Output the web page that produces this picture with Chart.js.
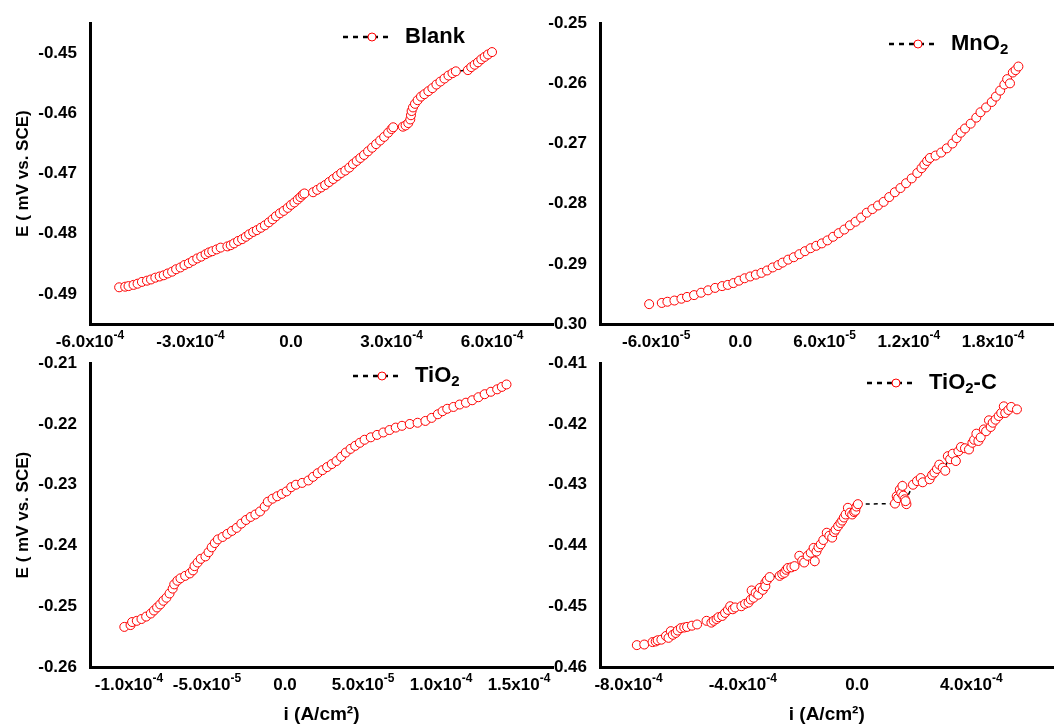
<!DOCTYPE html>
<html>
<head>
<meta charset="utf-8">
<script src="https://cdn.jsdelivr.net/npm/chart.js@4.4.0/dist/chart.umd.min.js"></script>
<style>
  html, body { margin: 0; padding: 0; background: #fff; overflow: hidden; }
  #wrap { position: relative; width: 1059px; height: 725px; }
  canvas { position: absolute; }
</style>
</head>
<body>
<div id="wrap">
  <canvas id="blank" width="560" height="355" style="left:0px;top:0px"></canvas>
  <canvas id="mno2" width="529" height="355" style="left:530px;top:0px"></canvas>
  <canvas id="tio2" width="560" height="385" style="left:0px;top:340px"></canvas>
  <canvas id="tio2c" width="529" height="385" style="left:530px;top:340px"></canvas>
</div>
<script>
// current density i (A/cm2) and potential E for each coating
const blankCurrent = [
  -5.13e-4, -4.95e-4, -4.85e-4, -4.70e-4, -4.58e-4, -4.45e-4, -4.30e-4, -4.18e-4, -4.05e-4, -3.92e-4,
  -3.80e-4, -3.68e-4, -3.55e-4, -3.43e-4, -3.30e-4, -3.18e-4, -3.05e-4, -2.93e-4, -2.80e-4, -2.68e-4,
  -2.55e-4, -2.45e-4, -2.35e-4, -2.22e-4, -2.10e-4, -1.90e-4, -1.80e-4, -1.70e-4, -1.58e-4, -1.46e-4,
  -1.35e-4, -1.25e-4, -1.13e-4, -1.02e-4, -0.90e-4, -0.78e-4, -0.66e-4, -0.55e-4, -0.45e-4, -0.33e-4,
  -0.22e-4, -0.10e-4, 0.00e-4, 0.10e-4, 0.20e-4, 0.28e-4, 0.35e-4, 0.40e-4, 0.66e-4, 0.78e-4,
  0.90e-4, 1.02e-4, 1.14e-4, 1.26e-4, 1.38e-4, 1.50e-4, 1.62e-4, 1.74e-4, 1.85e-4, 1.96e-4,
  2.07e-4, 2.18e-4, 2.30e-4, 2.42e-4, 2.54e-4, 2.66e-4, 2.78e-4, 2.90e-4, 3.00e-4, 3.05e-4,
  3.34e-4, 3.42e-4, 3.50e-4, 3.56e-4, 3.58e-4, 3.60e-4, 3.64e-4, 3.70e-4, 3.78e-4, 3.88e-4,
  3.98e-4, 4.10e-4, 4.22e-4, 4.34e-4, 4.46e-4, 4.58e-4, 4.70e-4, 4.82e-4, 4.92e-4, 5.28e-4,
  5.38e-4, 5.48e-4, 5.58e-4, 5.68e-4, 5.78e-4, 5.88e-4, 6.00e-4
];
const blankPotential = [
  -0.4889, -0.4888, -0.4887, -0.4885, -0.4883, -0.4880, -0.4878, -0.4876, -0.4873, -0.4871,
  -0.4869, -0.4866, -0.4863, -0.4859, -0.4856, -0.4852, -0.4849, -0.4845, -0.4841, -0.4838,
  -0.4834, -0.4831, -0.4829, -0.4826, -0.4823, -0.4821, -0.4819, -0.4816, -0.4812, -0.4809,
  -0.4805, -0.4801, -0.4797, -0.4794, -0.4790, -0.4786, -0.4781, -0.4776, -0.4771, -0.4766,
  -0.4762, -0.4757, -0.4752, -0.4748, -0.4743, -0.4739, -0.4735, -0.4733, -0.4731, -0.4727,
  -0.4723, -0.4719, -0.4714, -0.4709, -0.4704, -0.4699, -0.4695, -0.4690, -0.4684, -0.4679,
  -0.4674, -0.4669, -0.4663, -0.4657, -0.4651, -0.4645, -0.4639, -0.4632, -0.4626, -0.4623,
  -0.4622, -0.4620, -0.4616, -0.4610, -0.4603, -0.4596, -0.4590, -0.4584, -0.4578, -0.4572,
  -0.4568, -0.4563, -0.4558, -0.4552, -0.4547, -0.4542, -0.4537, -0.4533, -0.4530, -0.4528,
  -0.4523, -0.4519, -0.4515, -0.4510, -0.4506, -0.4502, -0.4498
];

const mno2Current = [
  -0.65e-4, -0.56e-4, -0.52e-4, -0.47e-4, -0.42e-4, -0.38e-4, -0.33e-4, -0.28e-4, -0.23e-4, -0.18e-4,
  -0.13e-4, -0.09e-4, -0.05e-4, -0.01e-4, 0.03e-4, 0.07e-4, 0.11e-4, 0.15e-4, 0.19e-4, 0.23e-4,
  0.27e-4, 0.30e-4, 0.34e-4, 0.38e-4, 0.42e-4, 0.46e-4, 0.50e-4, 0.54e-4, 0.58e-4, 0.62e-4,
  0.66e-4, 0.70e-4, 0.74e-4, 0.78e-4, 0.82e-4, 0.86e-4, 0.90e-4, 0.94e-4, 0.98e-4, 1.02e-4,
  1.06e-4, 1.10e-4, 1.14e-4, 1.18e-4, 1.22e-4, 1.26e-4, 1.29e-4, 1.31e-4, 1.33e-4, 1.35e-4,
  1.39e-4, 1.43e-4, 1.47e-4, 1.51e-4, 1.54e-4, 1.57e-4, 1.60e-4, 1.64e-4, 1.68e-4, 1.71e-4,
  1.75e-4, 1.79e-4, 1.82e-4, 1.85e-4, 1.88e-4, 1.90e-4, 1.92e-4, 1.94e-4, 1.96e-4, 1.98e-4
];
const mno2Potential = [
  -0.2967, -0.2965, -0.2963, -0.2961, -0.2958, -0.2955, -0.2952, -0.2948, -0.2944, -0.2940,
  -0.2937, -0.2935, -0.2932, -0.2928, -0.2924, -0.2921, -0.2918, -0.2915, -0.2911, -0.2906,
  -0.2902, -0.2898, -0.2893, -0.2889, -0.2884, -0.2879, -0.2874, -0.2870, -0.2866, -0.2861,
  -0.2855, -0.2849, -0.2843, -0.2836, -0.2830, -0.2823, -0.2815, -0.2809, -0.2803, -0.2797,
  -0.2789, -0.2781, -0.2774, -0.2766, -0.2758, -0.2749, -0.2741, -0.2735, -0.2729, -0.2724,
  -0.2720, -0.2715, -0.2708, -0.2700, -0.2691, -0.2682, -0.2675, -0.2667, -0.2657, -0.2648,
  -0.2640, -0.2631, -0.2622, -0.2612, -0.2602, -0.2593, -0.2600, -0.2582, -0.2578, -0.2572
];

const tio2Current = [
  -1.03e-4, -0.99e-4, -0.98e-4, -0.95e-4, -0.92e-4, -0.89e-4, -0.86e-4, -0.84e-4, -0.82e-4, -0.80e-4,
  -0.78e-4, -0.76e-4, -0.74e-4, -0.72e-4, -0.71e-4, -0.69e-4, -0.67e-4, -0.64e-4, -0.61e-4, -0.59e-4,
  -0.58e-4, -0.56e-4, -0.54e-4, -0.51e-4, -0.49e-4, -0.47e-4, -0.45e-4, -0.43e-4, -0.40e-4, -0.37e-4,
  -0.34e-4, -0.31e-4, -0.28e-4, -0.25e-4, -0.22e-4, -0.19e-4, -0.16e-4, -0.13e-4, -0.11e-4, -0.08e-4,
  -0.05e-4, -0.02e-4, 0.01e-4, 0.04e-4, 0.07e-4, 0.11e-4, 0.15e-4, 0.18e-4, 0.21e-4, 0.24e-4,
  0.27e-4, 0.30e-4, 0.33e-4, 0.36e-4, 0.39e-4, 0.42e-4, 0.45e-4, 0.48e-4, 0.51e-4, 0.55e-4,
  0.59e-4, 0.63e-4, 0.67e-4, 0.71e-4, 0.75e-4, 0.80e-4, 0.85e-4, 0.90e-4, 0.94e-4, 0.98e-4,
  1.01e-4, 1.04e-4, 1.08e-4, 1.12e-4, 1.16e-4, 1.20e-4, 1.24e-4, 1.28e-4, 1.32e-4, 1.36e-4,
  1.39e-4, 1.42e-4
];
const tio2Potential = [
  -0.2534, -0.2531, -0.2526, -0.2524, -0.2521, -0.2517, -0.2512, -0.2507, -0.2502, -0.2497,
  -0.2491, -0.2486, -0.2479, -0.2471, -0.2464, -0.2458, -0.2454, -0.2450, -0.2446, -0.2441,
  -0.2434, -0.2428, -0.2422, -0.2418, -0.2411, -0.2403, -0.2396, -0.2390, -0.2386, -0.2381,
  -0.2376, -0.2371, -0.2364, -0.2358, -0.2353, -0.2349, -0.2344, -0.2336, -0.2328, -0.2323,
  -0.2319, -0.2315, -0.2311, -0.2304, -0.2300, -0.2297, -0.2293, -0.2287, -0.2281, -0.2276,
  -0.2271, -0.2266, -0.2261, -0.2254, -0.2247, -0.2241, -0.2236, -0.2231, -0.2226, -0.2222,
  -0.2218, -0.2214, -0.2210, -0.2206, -0.2203, -0.2200, -0.2198, -0.2195, -0.2190, -0.2184,
  -0.2179, -0.2175, -0.2172, -0.2168, -0.2165, -0.2161, -0.2156, -0.2151, -0.2147, -0.2143,
  -0.2139, -0.2135
];

const tio2cCurrent = [
  -7.71e-4, -7.45e-4, -7.16e-4, -7.05e-4, -6.98e-4, -6.85e-4, -6.69e-4, -6.60e-4, -6.52e-4, -6.45e-4,
  -6.35e-4, -6.28e-4, -6.17e-4, -6.05e-4, -5.95e-4, -5.78e-4, -5.60e-4, -5.27e-4, -5.10e-4, -5.02e-4,
  -4.92e-4, -4.85e-4, -4.72e-4, -4.62e-4, -4.52e-4, -4.44e-4, -4.35e-4, -4.27e-4, -4.05e-4, -3.92e-4,
  -3.80e-4, -3.72e-4, -3.69e-4, -3.62e-4, -3.55e-4, -3.46e-4, -3.40e-4, -3.30e-4, -3.21e-4, -3.21e-4,
  -3.15e-4, -3.06e-4, -2.71e-4, -2.62e-4, -2.54e-4, -2.48e-4, -2.42e-4, -2.30e-4, -2.19e-4, -2.02e-4,
  -1.92e-4, -1.85e-4, -1.73e-4, -1.62e-4, -1.52e-4, -1.48e-4, -1.42e-4, -1.35e-4, -1.27e-4, -1.18e-4,
  -1.06e-4, -0.97e-4, -0.87e-4, -0.80e-4, -0.75e-4, -0.66e-4, -0.58e-4, -0.52e-4, -0.46e-4, -0.40e-4,
  -0.32e-4, -0.25e-4, -0.17e-4, -0.10e-4, -0.06e-4, -0.02e-4, 0.03e-4, 1.33e-4, 1.39e-4, 1.44e-4,
  1.50e-4, 1.55e-4, 1.59e-4, 1.62e-4, 1.67e-4, 1.73e-4, 1.70e-4, 1.96e-4, 2.10e-4, 2.23e-4,
  2.30e-4, 2.54e-4, 2.63e-4, 2.71e-4, 2.80e-4, 2.88e-4, 3.00e-4, 3.09e-4, 3.18e-4, 3.26e-4,
  3.35e-4, 3.46e-4, 3.55e-4, 3.64e-4, 3.78e-4, 3.92e-4, 4.04e-4, 4.10e-4, 4.18e-4, 4.25e-4,
  4.33e-4, 4.44e-4, 4.52e-4, 4.62e-4, 4.68e-4, 4.75e-4, 4.85e-4, 4.96e-4, 5.05e-4, 5.14e-4,
  5.19e-4, 5.30e-4, 5.40e-4, 5.60e-4
];
const tio2cPotential = [
  -0.4564, -0.4563, -0.4559, -0.4558, -0.4556, -0.4555, -0.4549, -0.4552, -0.4541, -0.4547,
  -0.4544, -0.4540, -0.4536, -0.4535, -0.4534, -0.4532, -0.4530, -0.4524, -0.4527, -0.4524,
  -0.4521, -0.4518, -0.4516, -0.4511, -0.4506, -0.4500, -0.4505, -0.4502, -0.4500, -0.4496,
  -0.4494, -0.4489, -0.4474, -0.4486, -0.4478, -0.4481, -0.4470, -0.4473, -0.4461, -0.4467,
  -0.4457, -0.4452, -0.4450, -0.4447, -0.4445, -0.4440, -0.4437, -0.4436, -0.4434, -0.4417,
  -0.4425, -0.4428, -0.4417, -0.4412, -0.4404, -0.4426, -0.4410, -0.4403, -0.4398, -0.4391,
  -0.4379, -0.4384, -0.4387, -0.4378, -0.4374, -0.4368, -0.4363, -0.4359, -0.4354, -0.4349,
  -0.4338, -0.4346, -0.4349, -0.4345, -0.4343, -0.4336, -0.4332, -0.4331, -0.4319, -0.4322,
  -0.4308, -0.4314, -0.4302, -0.4318, -0.4324, -0.4332, -0.4327, -0.4300, -0.4294, -0.4289,
  -0.4296, -0.4291, -0.4284, -0.4280, -0.4274, -0.4267, -0.4272, -0.4277, -0.4253, -0.4258,
  -0.4249, -0.4261, -0.4245, -0.4238, -0.4240, -0.4242, -0.4231, -0.4226, -0.4216, -0.4228,
  -0.4222, -0.4209, -0.4212, -0.4194, -0.4205, -0.4198, -0.4193, -0.4187, -0.4182, -0.4171,
  -0.4182, -0.4177, -0.4172, -0.4176
];

// tick values for each panel
const blankXTicks = [-6e-4, -3e-4, 0, 3e-4, 6e-4];
const blankYTicks = [-0.49, -0.48, -0.47, -0.46, -0.45];
const mno2XTicks = [-6e-5, 0, 6e-5, 1.2e-4, 1.8e-4];
const mno2YTicks = [-0.30, -0.29, -0.28, -0.27, -0.26, -0.25];
const tio2XTicks = [-1e-4, -5e-5, 0, 5e-5, 1e-4, 1.5e-4];
const tio2YTicks = [-0.26, -0.25, -0.24, -0.23, -0.22, -0.21];
const tio2cXTicks = [-8e-4, -4e-4, 0, 4e-4];
const tio2cYTicks = [-0.46, -0.45, -0.44, -0.43, -0.42, -0.41];

const FONT = "'Liberation Sans', Arial, sans-serif";
Chart.defaults.font.family = FONT;
Chart.defaults.color = '#000';

// "6.0x10" + superscript exponent
function sciParts(v) {
  if (v === 0) return ['0.0', ''];
  const e = Math.floor(Math.log10(Math.abs(v)) + 1e-9);
  const m = v / Math.pow(10, e);
  return [m.toFixed(1) + 'x10', String(e)];
}

// draws x tick labels with exponents, and the little legend with subscript
const panelText = {
  id: 'panelText',
  afterDraw(chart, args, opts) {
    const ctx = chart.ctx;
    const xs = chart.scales.x;
    const area = chart.chartArea;
    ctx.save();
    ctx.fillStyle = '#000';
    ctx.textBaseline = 'middle';
    ctx.textAlign = 'left';
    xs.ticks.forEach(t => {
      const [main, sup] = sciParts(t.value);
      ctx.font = 'bold 17px ' + FONT;
      const w1 = ctx.measureText(main).width;
      ctx.font = 'bold 12px ' + FONT;
      const w2 = sup ? ctx.measureText(sup).width : 0;
      const x0 = xs.getPixelForValue(t.value) - (w1 + w2) / 2;
      const y = area.bottom + 18;
      ctx.font = 'bold 17px ' + FONT;
      ctx.fillText(main, x0, y);
      if (sup) {
        ctx.font = 'bold 12px ' + FONT;
        ctx.fillText(sup, x0 + w1, y - 6);
      }
    });

    const lg = opts.legend;
    if (lg) {
      ctx.strokeStyle = '#000';
      ctx.lineWidth = 2.5;
      ctx.setLineDash([5, 5]);
      ctx.beginPath();
      ctx.moveTo(lg.x, lg.y);
      ctx.lineTo(lg.x + 47, lg.y);
      ctx.stroke();
      ctx.setLineDash([]);
      ctx.beginPath();
      ctx.arc(lg.x + 29, lg.y, 4, 0, Math.PI * 2);
      ctx.fillStyle = '#fff';
      ctx.fill();
      ctx.strokeStyle = '#ff0000';
      ctx.lineWidth = 1;
      ctx.stroke();

      ctx.fillStyle = '#000';
      let tx = lg.x + 62;
      ctx.font = 'bold 22px ' + FONT;
      ctx.fillText(lg.name, tx, lg.y);
      tx += ctx.measureText(lg.name).width;
      if (lg.sub) {
        ctx.font = 'bold 15px ' + FONT;
        ctx.fillText(lg.sub, tx, lg.y + 6);
        tx += ctx.measureText(lg.sub).width;
      }
      if (lg.tail) {
        ctx.font = 'bold 22px ' + FONT;
        ctx.fillText(lg.tail, tx, lg.y);
      }
    }
    ctx.restore();
  }
};

function panel(id, p) {
  return new Chart(document.getElementById(id), {
    type: 'scatter',
    data: {
      datasets: [{
        data: p.current.map((v, i) => ({ x: v, y: p.potential[i] })),
        showLine: true,
        borderColor: '#000',
        borderWidth: 1.5,
        borderDash: [4, 4],
        pointRadius: 4.5,
        pointBorderWidth: 1,
        pointBorderColor: '#ff0000',
        pointBackgroundColor: '#fff'
      }]
    },
    options: {
      animation: false,
      responsive: false,
      devicePixelRatio: 1,
      layout: { padding: p.padding },
      plugins: {
        legend: { display: false },
        tooltip: { enabled: false },
        panelText: { legend: p.legend }
      },
      scales: {
        x: {
          type: 'linear',
          min: p.xMin,
          max: p.xMax,
          afterBuildTicks: s => { s.ticks = p.xTicks.map(v => ({ value: v })); },
          afterFit: s => { s.height = p.xHeight; },
          grid: { display: false, drawTicks: false },
          border: { color: '#000', width: 3 },
          ticks: { display: false },
          title: {
            display: !!p.xTitle,
            text: 'i (A/cm²)',
            font: { size: 19, weight: 'bold', lineHeight: 1.05 },
            padding: { top: 0, bottom: 0 }
          }
        },
        y: {
          min: p.yMin,
          max: p.yMax,
          afterBuildTicks: s => { s.ticks = p.yTicks.map(v => ({ value: v })); },
          afterFit: s => { s.width = p.yWidth; },
          grid: { display: false, drawTicks: false },
          border: { color: '#000', width: 3 },
          ticks: {
            padding: 13,
            font: { size: 17, weight: 'bold' },
            callback: v => v.toFixed(2)
          },
          title: {
            display: !!p.yTitle,
            text: 'E ( mV vs. SCE)',
            font: { size: 17, weight: 'bold' },
            padding: { top: 13, bottom: 0 }
          }
        }
      }
    },
    plugins: [panelText]
  });
}

panel('blank', {
  current: blankCurrent, potential: blankPotential,
  xMin: -6e-4, xMax: 7.82e-4, xTicks: blankXTicks,
  yMin: -0.495, yMax: -0.445, yTicks: blankYTicks,
  padding: { left: 0, top: 18, right: 7, bottom: 0 },
  yWidth: 90, xHeight: 31, yTitle: true, xTitle: false,
  legend: { x: 343, y: 37, name: 'Blank' }
});

panel('mno2', {
  current: mno2Current, potential: mno2Potential,
  xMin: -1.0e-4, xMax: 2.23e-4, xTicks: mno2XTicks,
  yMin: -0.30, yMax: -0.25, yTicks: mno2YTicks,
  padding: { left: 0, top: 20, right: 0, bottom: 0 },
  yWidth: 70, xHeight: 31, yTitle: false, xTitle: false,
  legend: { x: 359, y: 44, name: 'MnO', sub: '2' }
});

panel('tio2', {
  current: tio2Current, potential: tio2Potential,
  xMin: -1.25e-4, xMax: 1.718e-4, xTicks: tio2XTicks,
  yMin: -0.26, yMax: -0.21, yTicks: tio2YTicks,
  padding: { left: 0, top: 23, right: 7, bottom: 0 },
  yWidth: 90, xHeight: 58, yTitle: true, xTitle: true,
  legend: { x: 353, y: 36, name: 'TiO', sub: '2' }
});

panel('tio2c', {
  current: tio2cCurrent, potential: tio2cPotential,
  xMin: -9e-4, xMax: 6.88e-4, xTicks: tio2cXTicks,
  yMin: -0.46, yMax: -0.41, yTicks: tio2cYTicks,
  padding: { left: 0, top: 23, right: 0, bottom: 0 },
  yWidth: 70, xHeight: 58, yTitle: false, xTitle: true,
  legend: { x: 337, y: 43, name: 'TiO', sub: '2', tail: '-C' }
});
</script>
</body>
</html>
